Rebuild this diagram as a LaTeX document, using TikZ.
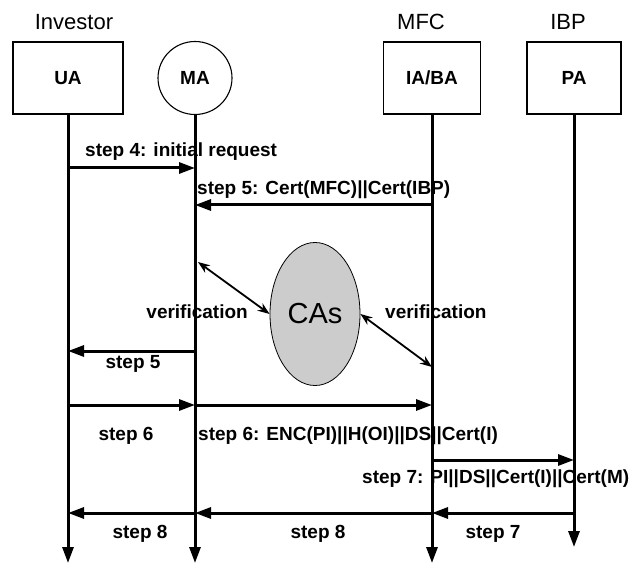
\documentclass[tikz,border=0pt]{standalone}
\usepackage{fontspec}
\setmainfont{Liberation Sans}
\usetikzlibrary{arrows.meta, shapes.geometric}

\begin{document}
\begin{tikzpicture}[
  x=1pt, y=-1pt,
  font=\fontsize{19}{21}\selectfont\bfseries,
  msg/.style={-{Triangle[length=16pt, width=11pt]}, line width=3pt, draw=black},
  life/.style={-{Triangle[length=16pt, width=11pt]}, line width=3pt, draw=black},
  verif/.style={{Stealth[length=12pt, width=9pt]}-{Stealth[length=12pt, width=9pt]}, line width=1.8pt},
  agent/.style={draw, line width=1.3pt, minimum width=#1, minimum height=72pt, inner sep=0pt},
  role/.style={font=\fontsize{22}{24}\selectfont\mdseries},
  lbl/.style={inner sep=1pt} % texte des messages
]
  \useasboundingbox (0,0) rectangle (637,564);

  % --- Agents ---
  \node[agent=110pt] (ua) at (68,78) {UA};
  \node[draw, ellipse, line width=1.1pt, minimum width=74pt, minimum height=73pt, inner sep=0pt] (ma) at (195,78) {MA};
  \node[agent=97pt] (iaba) at (432,78) {IA/BA};
  \node[agent=94pt] (pa) at (574,78) {PA};

  \node[role] (investor) at (74,22) {Investor};
  \node[role] (mfc) at (421,22) {MFC};
  \node[role] (ibp) at (568,22) {IBP};

  % --- Lignes de vie ---
  \coordinate (ua-end) at (68,563);
  \coordinate (ma-end) at (195,563);
  \coordinate (iaba-end) at (432,563);
  \coordinate (pa-end) at (574,547);
  \draw[life] (ua) -- (ua-end);
  \draw[life] (ma) -- (ma-end);
  \draw[life] (iaba) -- (iaba-end);
  \draw[life] (pa) -- (pa-end);

  % --- Autorités de certification ---
  \node[draw, ellipse, fill=black!20, line width=0.8pt, minimum width=90pt, minimum height=143pt,
    font=\fontsize{29}{31}\selectfont\mdseries] (cas) at (315,314) {CAs};

  % --- Points des messages ---
  \coordinate (ua-s4) at (ua |- 0,168);  \coordinate (ma-s4) at (ma |- 0,168);
  \coordinate (ma-s5) at (ma |- 0,205);  \coordinate (iaba-s5) at (iaba |- 0,205);
  \coordinate (ma-v) at (198,262);       \coordinate (iaba-v) at (iaba |- 0,367);
  \coordinate (ua-r5) at (ua |- 0,351);  \coordinate (ma-r5) at (ma |- 0,351);
  \coordinate (ua-s6) at (ua |- 0,405);  \coordinate (ma-s6) at (ma |- 0,405);
  \coordinate (iaba-s6) at (iaba |- 0,405);
  \coordinate (iaba-s7) at (iaba |- 0,460); \coordinate (pa-s7) at (pa |- 0,460);
  \coordinate (ua-s8) at (ua |- 0,513);  \coordinate (ma-s8) at (ma |- 0,513);
  \coordinate (iaba-s8) at (iaba |- 0,513); \coordinate (pa-s8) at (pa |- 0,513);

  % --- Messages ---
  \draw[msg] (ua-s4) -- (ma-s4);
  \node[lbl, anchor=west] (l-s4) at (84,152) {step 4: initial request};
  \draw[msg] (iaba-s5) -- (ma-s5);
  \node[lbl, anchor=west] (l-s5) at (196,190) {step 5: Cert(MFC)||Cert(IBP)};

  \draw[verif] (ma-v) -- (cas.west);
  \draw[verif] (cas.east) -- (iaba-v);
  \node[lbl, anchor=east] (l-v1) at (249,312) {verification};
  \node[lbl, anchor=west] (l-v2) at (384,312) {verification};

  \draw[msg] (ma-r5) -- (ua-r5);
  \node[lbl] (l-r5) at (133,364) {step 5};

  \draw[msg] (ua-s6) -- (ma-s6);
  \draw[msg] (ma-s6) -- (iaba-s6);
  \node[lbl] (l-s6a) at (126,436) {step 6};
  \node[lbl, anchor=west] (l-s6b) at (197,436) {step 6: ENC(PI)||H(OI)||DS||Cert(I)};

  \draw[msg] (iaba-s7) -- (pa-s7);
  \node[lbl, anchor=west] (l-s7) at (361,479) {step 7: PI||DS||Cert(I)||Cert(M)};

  \draw[msg] (pa-s8) -- (iaba-s8);
  \draw[msg] (iaba-s8) -- (ma-s8);
  \draw[msg] (ma-s8) -- (ua-s8);
  \node[lbl] (l-s8a) at (140,534) {step 8};
  \node[lbl] (l-s8b) at (318,534) {step 8};
  \node[lbl] (l-s7b) at (493,534) {step 7};

\end{tikzpicture}
\end{document}
